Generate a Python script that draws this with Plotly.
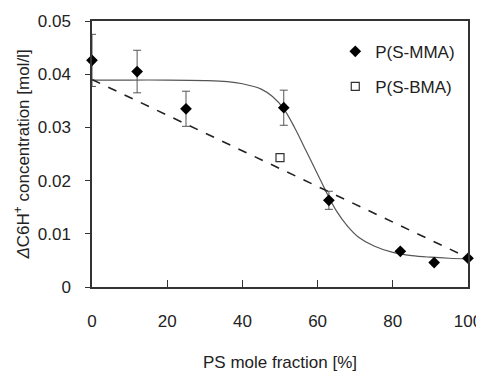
import plotly.graph_objects as go

# P(S-MMA) measurements
mma_x = [0, 12, 25, 51, 63, 82, 91, 100]
mma_y = [0.0426, 0.0405, 0.0335, 0.0337, 0.0163, 0.0067, 0.0046, 0.0054]
mma_err = [0.0049, 0.0040, 0.0033, 0.0033, 0.0017, 0.0, 0.0, 0.0]

# P(S-BMA) measurement
bma_x = [50]
bma_y = [0.0243]

# linear (dashed) trend
lin_x = [0, 100]
lin_y = [0.0390, 0.0055]

# sigmoidal fit curve
fit_x = [0, 10, 20, 30, 36, 40, 45, 48, 51, 54, 57, 60, 62, 65, 68, 71, 75, 80, 85, 90, 95, 100]
fit_y = [0.0389, 0.0389, 0.0389, 0.0388, 0.0386, 0.0382, 0.0372, 0.0358, 0.0335, 0.0298, 0.0255, 0.0212, 0.0183, 0.0143, 0.0114, 0.0093, 0.0077, 0.0065, 0.0059, 0.0056, 0.0054, 0.0053]

x_ticks = [0, 20, 40, 60, 80, 100]
y_ticks = [0, 0.01, 0.02, 0.03, 0.04, 0.05]
y_tick_text = ["0", "0.01", "0.02", "0.03", "0.04", "0.05"]

FONT = "Liberation Sans, Arial, sans-serif"

fig = go.Figure()
fig.add_trace(go.Scatter(x=fit_x, y=fit_y, mode="lines", line=dict(color="#555555", width=1.2, shape="spline"),
                         showlegend=False, hoverinfo="skip"))
fig.add_trace(go.Scatter(x=lin_x, y=lin_y, mode="lines", line=dict(color="#222222", width=1.6, dash="dash"),
                         showlegend=False, hoverinfo="skip"))
fig.add_trace(go.Scatter(x=mma_x, y=mma_y, mode="markers", name="P(S-MMA)", legendgroup="a",
                         marker=dict(symbol="diamond", size=9, color="black"),
                         error_y=dict(type="data", array=mma_err, color="#555555", thickness=1, width=4),
                         cliponaxis=False))
fig.add_trace(go.Scatter(x=bma_x, y=bma_y, mode="markers", name="P(S-BMA)", legendgroup="b",
                         marker=dict(symbol="square-open", size=8, color="#333333", line=dict(width=1.2)),
                         cliponaxis=False))

fig.update_layout(
    width=476, height=364,
    margin=dict(l=84, r=16, t=13, b=85, autoexpand=False),
    paper_bgcolor="white", plot_bgcolor="white",
    font=dict(family=FONT, size=17, color="#222222"),
    legend=dict(x=0.647, y=0.952, xanchor="left", yanchor="top", bgcolor="rgba(0,0,0,0)",
                font=dict(size=17), itemwidth=30, tracegroupgap=10, traceorder="grouped"),
    xaxis=dict(range=[0, 100], tickvals=x_ticks, ticks="inside", ticklen=7, tickcolor="#333333",
               ticklabelstandoff=18, automargin=False,
               showgrid=False, zeroline=False, showline=True, linecolor="#333333", linewidth=1.5, mirror=True,
               title=dict(text="PS mole fraction [%]", standoff=27, font=dict(size=17)),
               tickfont=dict(size=17)),
    yaxis=dict(range=[0, 0.05], tickvals=y_ticks, ticktext=y_tick_text, ticks="outside", ticklen=5,
               tickcolor="#333333", ticklabelstandoff=11, automargin=False,
               showgrid=False, zeroline=False, showline=True, linecolor="#333333", linewidth=1.5, mirror=True,
               title=dict(text="<i>Δ</i>C6H<sup>+</sup> concentration [mol/l]", standoff=4, font=dict(size=17)),
               tickfont=dict(size=17)),
)

fig.write_html("out.html")
